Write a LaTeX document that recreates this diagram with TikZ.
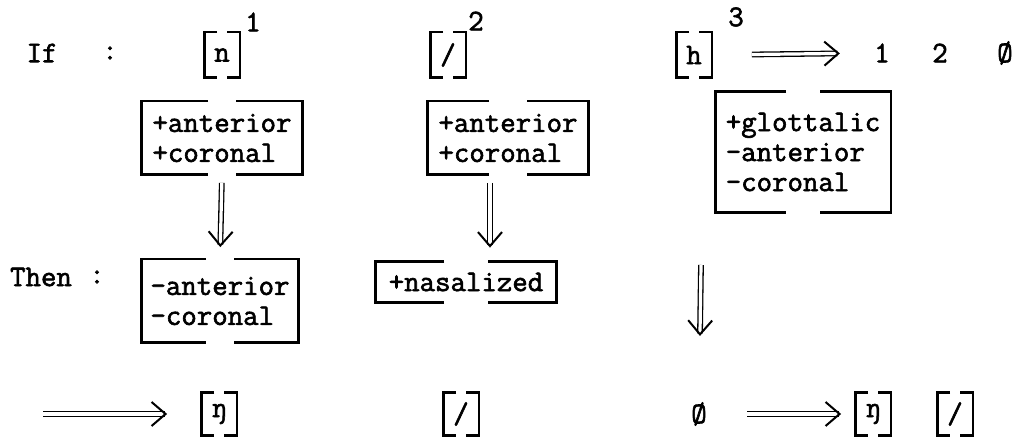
\documentclass[tikz,border=0pt]{standalone}
\usepackage{fontspec}
\setmonofont{Latin Modern Mono}[FakeBold=2]
\usetikzlibrary
  {
    arrows.meta,  % barb tips for the double arrows
    calc,
    positioning,
  }

\tikzset{
  every node/.style={font=\ttfamily\fontsize{15}{15}\selectfont, inner sep=0pt},
  seg/.style={minimum width=17.5pt, minimum height=22.5pt},
  feat/.style={align=left, inner xsep=4pt},
  brk/.style={line width=1.4pt},
  dbl/.style={double, double distance=1.6pt, line width=0.65pt,
    -{Straight Barb[length=7pt, width=12pt, line width=1pt]}},
}

% brackets of a feature matrix: a box with a gap in its top and bottom side
\newcommand{\matbrk}[2]{%
  \draw[brk] ($(#1.north)+(-#2,0)$) -- (#1.north west) -- (#1.south west) -- ($(#1.south)+(-#2,0)$)
             ($(#1.north)+(#2,0)$) -- (#1.north east) -- (#1.south east) -- ($(#1.south)+(#2,0)$);
}

\begin{document}
\begin{tikzpicture}[x=0.5pt, y=-0.5pt]
  \useasboundingbox (0,0) rectangle (1029,437);

  % first line: the segments
  \node (if) at (42,53) {If};
  \node (ifcol) at (110,53) {:};
  \node[seg] (n) at (222,55) {n};
  \node (one) at (253,22) {1};
  \node[seg] (q) at (448,55) {/};
  \node (two) at (476,21) {2};
  \node[seg] (h) at (694,55) {h};
  \node (three) at (736,17) {3};
  \node (r1) at (882,53) {1};
  \node (r2) at (940,53) {2};
  \node (r3) at (1005,53) {Ø};
  \draw[dbl] (h.east) -- (r1.west) [shorten <=20pt, shorten >=17pt];

  % feature matrices
  \node[feat, minimum width=80pt, minimum height=36.5pt] (fn) at (222,138) {+anterior\\+coronal};
  \node[feat, minimum width=80pt, minimum height=36.5pt] (fq) at (508,138) {+anterior\\+coronal};
  \node[feat, minimum width=87.5pt, minimum height=60pt] (fh) at (803,152) {+glottalic\\-anterior\\-coronal};

  % results
  \node (then) at (41,277) {Then};
  \node (thencol) at (97,277) {:};
  \node[feat, minimum width=78pt, minimum height=41.5pt] (gn) at (220,301) {-anterior\\-coronal};
  \node[feat, minimum width=90pt, minimum height=20pt] (gq) at (466,282) {+nasalized};

  \foreach \m/\g in {n/5, q/5, h/5, fn/14, fq/19, fh/17, gn/14, gq/22}
    \matbrk{\m}{\g};

  \draw[dbl] (fn.south) -- (gn.north) [shorten <=4pt, shorten >=6pt];
  \draw[dbl] ([xshift=-9pt]fq.south) -- ([xshift=-9pt]fq.south |- gq.north) [shorten <=4pt, shorten >=7pt];

  % output line
  \coordinate (ba) at (43,414);
  \node[seg, minimum height=21pt] (ng) at (219,414) {ŋ};
  \node[seg, minimum height=21pt] (qq) at (461,414) {/};
  \node (nul) at (699,414) {Ø};
  \node[seg, minimum height=21pt] (ng2) at (873,414) {ŋ};
  \node[seg, minimum height=21pt] (qq2) at (955,414) {/};
  \foreach \m in {ng, qq, ng2, qq2}
    \matbrk{\m}{5};

  \coordinate (da) at (701,265);
  \draw[dbl] (da) -- (nul.north) [shorten >=33pt];
  \draw[dbl] (ba) -- (ng.west) [shorten >=17pt];
  \draw[dbl] (nul.east) -- (ng2.west) [shorten <=20pt, shorten >=7pt];
\end{tikzpicture}
\end{document}
